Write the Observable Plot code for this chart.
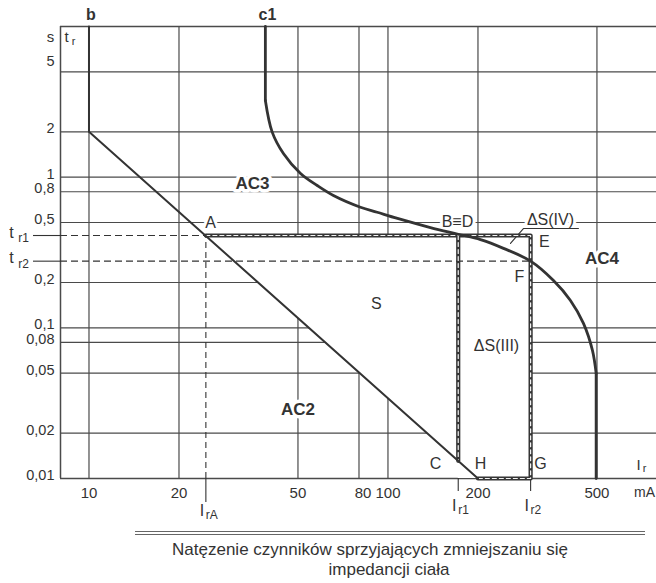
<!DOCTYPE html>
<html><head><meta charset="utf-8">
<script src="https://cdn.jsdelivr.net/npm/d3@7"></script>
<script src="https://cdn.jsdelivr.net/npm/@observablehq/plot@0.6"></script>
<style>
body{margin:0;background:#fff;font-family:"Liberation Sans",Arial,sans-serif;}
#wrap{position:relative;width:656px;height:583px;overflow:hidden;}
#chart{position:absolute;left:0;top:0;}
.dbl{position:absolute;left:135px;top:531px;width:510px;border-top:4px double #666;}
.ttl{position:absolute;width:500px;text-align:center;font-size:17px;line-height:17px;color:#333;white-space:nowrap;}
</style></head><body>
<div id="wrap"><div id="chart"></div>
<div class="dbl"></div>
<div class="ttl" id="t1" style="left:120px;top:541px;"></div>
<div class="ttl" id="t2" style="left:139px;top:561px;"></div>
</div>
<script>
// ---------- data ----------
const xDomain = [8.03, 791];
const yDomain = [0.01, 10];

const xGrid = [10, 20, 50, 80, 100, 200, 500];
const xTickText = ["10", "20", "50", "80", "100", "200", "500"];
const yGrid = [5, 2, 1, 0.8, 0.5, 0.2, 0.1, 0.08, 0.05, 0.02];
const yTickValues = [5, 2, 1, 0.8, 0.5, 0.2, 0.1, 0.08, 0.05, 0.02, 0.01];
const yTickText = ["5", "2", "1", "0,8", "0,5", "0,2", "0,1", "0,08", "0,05", "0,02", "0,01"];

// curve b
const lineB_I = [10, 10, 200];
const lineB_t = [10, 2, 0.01];

// curve c1
const c1Top_I = [38.9, 38.9];
const c1Top_t = [10, 3.23];
const c1Curve_I = [38.9, 41.0, 44.7, 51.0, 58.0, 65.7, 80.9, 92.0, 107.6, 138.7, 171.8, 203.9, 243.4, 300, 357.8, 407.7, 450.7, 483, 497];
const c1Curve_t = [3.23, 1.99, 1.435, 1.058, 0.88, 0.756, 0.632, 0.585, 0.532, 0.463, 0.418, 0.385, 0.337, 0.277, 0.206, 0.152, 0.107, 0.0708, 0.0498];
const c1Bottom_I = [497, 497];
const c1Bottom_t = [0.0498, 0.01];

// characteristic points
const I_rA = 24.6, I_r1 = 171.8, I_r2 = 300, I_H = 200;
const t_r1 = 0.41, t_r2 = 0.277, t_C = 0.0131;

// region labels (bold)
const zoneText = ["AC3", "AC2", "AC4"];
const zoneI = [35.2, 50, 520];
const zoneT = [0.908, 0.0287, 0.2886];

// point / area labels
const ptText = ["A", "B\u2261D", "\u0394S(IV)", "E", "F", "S", "\u0394S(III)", "C", "H", "G"];
const ptI = [25.5, 170.8, 349.6, 333.7, 275.3, 91.5, 230.7, 144.2, 203.9, 323.6];
const ptT = [0.5, 0.508, 0.524, 0.374, 0.219, 0.145, 0.0764, 0.01258, 0.0125, 0.0125];

// leader of ΔS(IV)
const leader_I = [256.9, 283.8, 433.6];
const leader_t = [0.363, 0.456, 0.456];

const titleLine1 = "Natęzenie czynników sprzyjających zmniejszaniu się";
const titleLine2 = "impedancji ciała";

// ---------- build ----------
const toPts = (I, t, z) => I.map((v, i) => ({I: v, t: t[i], z}));
const FONT = "Liberation Sans, Arial, sans-serif";
const INK = "#333";
const GRID = "#4a4a4a";

const thickPath = [
  {I: I_rA, t: t_r1, z: 0}, {I: I_r2, t: t_r1, z: 0}, {I: I_r2, t: 0.01, z: 0}, {I: I_H, t: 0.01, z: 0},
  {I: I_r1, t: t_r1, z: 1}, {I: I_r1, t: t_C, z: 1}
];
const sArea = [{I: I_rA, lo: t_r1, hi: t_r1}, {I: I_r1, lo: t_C, hi: t_r1}];

function label(data, opts, halo = 6) {
  return [
    Plot.text(data, {...opts, fill: "white", stroke: "white", strokeWidth: halo}),
    Plot.text(data, {...opts, fill: INK})
  ];
}

const zones = zoneText.map((s, i) => ({s, I: zoneI[i], t: zoneT[i]}));
const pts = ptText.map((s, i) => ({s, I: ptI[i], t: ptT[i]}));
const xt = xGrid.map((v, i) => ({v, s: xTickText[i]}));
const yt = yTickValues.map((v, i) => ({v, s: yTickText[i]}));
const txt = {fill: INK, fontFamily: FONT};

const chart = Plot.plot({
  width: 656, height: 528,
  marginTop: 26, marginBottom: 50, marginLeft: 60, marginRight: 0,
  x: {type: "log", domain: xDomain, axis: null},
  y: {type: "log", domain: yDomain, axis: null},
  style: {fontFamily: FONT, background: "white", overflow: "visible"},
  marks: [
    // grid
    Plot.ruleX(xGrid, {stroke: GRID, strokeWidth: 1.2}),
    Plot.ruleY(yGrid, {stroke: GRID, strokeWidth: 1.2}),
    // frame (top, bottom, left)
    Plot.ruleY([yDomain[1], yDomain[0]], {stroke: GRID, strokeWidth: 1.5}),
    Plot.ruleX([xDomain[0]], {stroke: GRID, strokeWidth: 1.5}),
    // blank regions S and ΔS(III)
    Plot.areaY(sArea, {x: "I", y1: "lo", y2: "hi", fill: "white"}),
    Plot.rect([0], {x1: () => I_r1, x2: () => I_r2, y1: () => 0.01, y2: () => t_r1, fill: "white"}),
    // dashed helper lines
    Plot.ruleY([t_r1], {x1: xDomain[0], x2: I_rA, stroke: INK, strokeWidth: 1.1, strokeDasharray: "7,4"}),
    Plot.ruleY([t_r2], {x1: xDomain[0], x2: I_r2, stroke: INK, strokeWidth: 1.1, strokeDasharray: "7,4"}),
    Plot.ruleX([I_rA], {y1: 0.01, y2: t_r1, stroke: INK, strokeWidth: 1.1, strokeDasharray: "6,4"}),
    // leaders outside the frame
    Plot.ruleY([t_r1, t_r2], {x1: xDomain[0], x2: xDomain[0], insetLeft: -27, stroke: INK, strokeWidth: 1.1}),
    Plot.ruleX([I_rA], {y1: 0.01, y2: 0.01, insetBottom: -24, stroke: INK, strokeWidth: 1.1}),
    Plot.ruleX([I_r1, I_r2], {y1: 0.01, y2: 0.01, insetBottom: -13, stroke: INK, strokeWidth: 1.1}),
    // labels with white halo
    ...label(zones, {x: "I", y: "t", text: "s", fontSize: 17, fontWeight: "bold", fontFamily: FONT}, 7),
    ...label(pts, {x: "I", y: "t", text: "s", fontSize: 16, fontFamily: FONT}, 6),
    // ΔS(IV) underline + leader
    Plot.line(toPts(leader_I, leader_t, 0), {x: "I", y: "t", stroke: INK, strokeWidth: 1.1}),
    // thick rectangle
    Plot.line(thickPath, {x: "I", y: "t", z: "z", stroke: "#353535", strokeWidth: 4.2}),
    Plot.line(thickPath, {x: "I", y: "t", z: "z", stroke: "#f4f4f4", strokeWidth: 1.2, strokeDasharray: "4,3"}),
    // curve b
    Plot.line(toPts(lineB_I, lineB_t, 0), {x: "I", y: "t", stroke: INK, strokeWidth: 2}),
    // curve c1
    Plot.line(toPts(c1Top_I, c1Top_t, 0), {x: "I", y: "t", stroke: INK, strokeWidth: 2.8}),
    Plot.line(toPts(c1Curve_I, c1Curve_t, 0), {x: "I", y: "t", stroke: INK, strokeWidth: 2.8, curve: "catmull-rom"}),
    Plot.line(toPts(c1Bottom_I, c1Bottom_t, 0), {x: "I", y: "t", stroke: INK, strokeWidth: 2.8}),
    // x tick labels
    Plot.text(xt.filter(d => d.v !== 80), {x: "v", y: () => yDomain[0], text: "s", dy: 15, fontSize: 15, ...txt}),
    Plot.text(xt.filter(d => d.v === 80), {x: "v", y: () => yDomain[0], text: "s", dy: 15, dx: 4, fontSize: 15, ...txt}),
    // y tick labels
    Plot.text(yt.filter(d => d.v !== 5), {x: () => xDomain[0], y: "v", text: "s", textAnchor: "end", dx: -6, dy: -3, fontSize: 14.5, ...txt}),
    Plot.text(yt.filter(d => d.v === 5), {x: () => xDomain[0], y: "v", text: "s", textAnchor: "end", dx: -6, dy: -10, fontSize: 14.5, ...txt}),
    Plot.text(["mA"], {x: () => 721, y: () => yDomain[0], text: d => d, dy: 14, fontSize: 14, ...txt}),
    // axis names
    Plot.text(["s"], {x: () => xDomain[0], y: () => yDomain[1], text: d => d, dx: -10, dy: 11, fontSize: 15, ...txt}),
    Plot.text(["t"], {x: () => xDomain[0], y: () => yDomain[1], text: d => d, dx: 6, dy: 11, fontSize: 15, ...txt}),
    Plot.text(["r"], {x: () => xDomain[0], y: () => yDomain[1], text: d => d, dx: 13, dy: 15, fontSize: 11, ...txt}),
    Plot.text(["I"], {x: () => 704.7, y: () => 0.0123, text: d => d, dx: -3, fontSize: 15, ...txt}),
    Plot.text(["r"], {x: () => 704.7, y: () => 0.0123, text: d => d, dx: 3, dy: 4, fontSize: 11, ...txt}),
    // curve names
    Plot.text(["b"], {x: () => 10, y: () => yDomain[1], text: d => d, dx: 2, dy: -12, fontSize: 16, fontWeight: "bold", ...txt}),
    Plot.text(["c1"], {x: () => c1Top_I[0], y: () => yDomain[1], text: d => d, dx: 2, dy: -12, fontSize: 16, fontWeight: "bold", ...txt}),
    // t_r1, t_r2
    Plot.text([t_r1, t_r2], {x: () => xDomain[0], y: d => d, text: () => "t", dx: -49, dy: -3, fontSize: 16, ...txt}),
    Plot.text([t_r1, t_r2], {x: () => xDomain[0], y: d => d, text: (d, i) => ["r1", "r2"][i], dx: -37, dy: 3, fontSize: 12, ...txt}),
    // I_rA, I_r1, I_r2
    Plot.text([I_rA], {x: d => d, y: () => yDomain[0], text: () => "I", dx: -4, dy: 32, fontSize: 16, ...txt}),
    Plot.text([I_rA], {x: d => d, y: () => yDomain[0], text: () => "rA", textAnchor: "start", dx: 0, dy: 37, fontSize: 12, ...txt}),
    Plot.text([I_r1, I_r2], {x: d => d, y: () => yDomain[0], text: () => "I", dx: -4, dy: 27, fontSize: 16, ...txt}),
    Plot.text([I_r1, I_r2], {x: d => d, y: () => yDomain[0], text: (d, i) => ["r1", "r2"][i], textAnchor: "start", dx: 0, dy: 32, fontSize: 12, ...txt})
  ]
});
document.getElementById("chart").appendChild(chart);
document.getElementById("t1").textContent = titleLine1;
document.getElementById("t2").textContent = titleLine2;
</script>
</body></html>
